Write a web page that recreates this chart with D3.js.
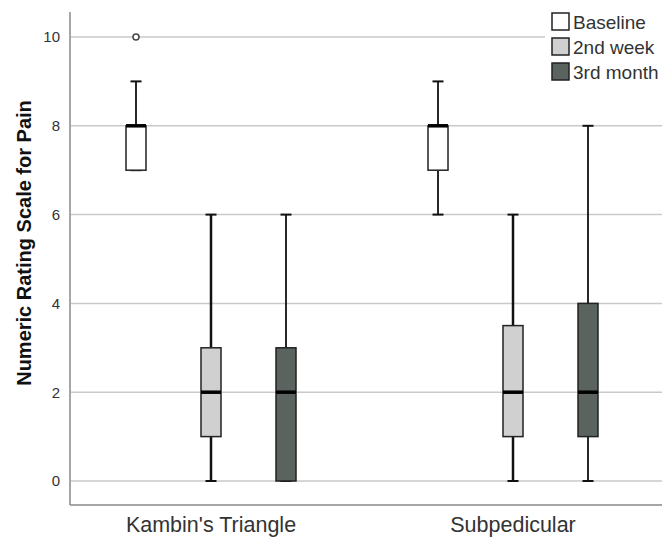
<!DOCTYPE html>
<html lang="en">
    <head>
        <meta charset="utf-8">
        <title>NRS boxplot</title>
        <script src="https://d3js.org/d3.v7.min.js"></script>
        <style>
            body { margin: 0; background: white; }
            text { font-family: "Liberation Sans", Arial, sans-serif; }
        </style>
    </head>
    <body>
        <script type="text/javascript">
        'use strict';

        //data
        var categories = ["Kambin's Triangle", "Subpedicular"];
        var series = ["Baseline", "2nd week", "3rd month"];
        var colors = ["#ffffff", "#d0d0d0", "#5a635d"];
        // [min, q1, median, q3, max] per category, per series
        var baseline = [[7, 7, 8, 8, 9], [6, 7, 8, 8, 9]];
        var week2 = [[0, 1, 2, 3, 6], [0, 1, 2, 3.5, 6]];
        var month3 = [[0, 0, 2, 3, 6], [0, 1, 2, 4, 8]];
        var outliers = [{cat: 0, ser: 0, value: 10}];
        var yTicks = [0, 2, 4, 6, 8, 10];

        var w = 662;
        var h = 537;
        var plotLeft = 70, plotTop = 12, plotBottom = 505;

        var stats = [baseline, week2, month3];

        var yScale = d3.scaleLinear()
            .domain([0, 10])
            .range([481, 37]);

        var xScale = d3.scaleBand()
            .domain(categories)
            .range([60, 664]);

        var xInner = d3.scalePoint()
            .domain(series)
            .range([-75, 75]);

        var svg = d3.select("body")
                    .append("svg")
                    .attr("width", w)
                    .attr("height", h);

        //gridlines
        svg.selectAll("line.grid")
            .data(yTicks)
            .enter()
            .append("line")
            .attr("class", "grid")
            .attr("x1", plotLeft + 1)
            .attr("x2", w)
            .attr("y1", function(d){ return yScale(d); })
            .attr("y2", function(d){ return yScale(d); })
            .attr("stroke", "#c9c9c9")
            .attr("stroke-width", 1.5);

        //axes
        var yAxis = d3.axisLeft(yScale)
            .tickValues(yTicks)
            .tickSize(0)
            .tickPadding(10);
        var gy = svg.append("g")
            .attr("transform", "translate(" + plotLeft + ",0)")
            .call(yAxis);
        gy.select(".domain").remove();
        gy.selectAll("text")
            .attr("font-size", "15px")
            .attr("fill", "#333");

        svg.append("line")
            .attr("x1", plotLeft).attr("x2", plotLeft)
            .attr("y1", plotTop).attr("y2", plotBottom)
            .attr("stroke", "#888").attr("stroke-width", 1.5);

        var xAxis = d3.axisBottom(xScale)
            .tickSize(0)
            .tickPadding(12);
        var gx = svg.append("g")
            .attr("transform", "translate(0," + plotBottom + ")")
            .call(xAxis);
        gx.select(".domain").remove();
        gx.selectAll("text")
            .attr("font-size", "21.5px")
            .attr("fill", "#333");

        svg.append("line")
            .attr("x1", plotLeft).attr("x2", w)
            .attr("y1", plotBottom).attr("y2", plotBottom)
            .attr("stroke", "#888").attr("stroke-width", 1.5);

        svg.append("text")
            .attr("transform", "translate(31,243) rotate(-90)")
            .attr("text-anchor", "middle")
            .attr("font-size", "20px")
            .attr("font-weight", "bold")
            .attr("fill", "#111")
            .text("Numeric Rating Scale for Pain");

        //boxes
        var boxes = [];
        series.forEach(function(s, si){
            categories.forEach(function(c, ci){
                var v = stats[si][ci];
                boxes.push({cat: c, ser: s, si: si, min: v[0], q1: v[1], med: v[2], q3: v[3], max: v[4]});
            });
        });

        var bw = 20, cap = 11;
        function cx(d){ return xScale(d.cat) + xScale.bandwidth() / 2 + xInner(d.ser); }

        var g = svg.selectAll("g.box")
            .data(boxes)
            .enter()
            .append("g")
            .attr("class", "box");

        g.append("line")
            .attr("x1", cx).attr("x2", cx)
            .attr("y1", function(d){ return yScale(d.max); })
            .attr("y2", function(d){ return yScale(d.q3); })
            .attr("stroke", "#111")
            .attr("stroke-width", function(d){ return d.si == 1 ? 2.5 : 1.8; });
        g.append("line")
            .attr("x1", cx).attr("x2", cx)
            .attr("y1", function(d){ return yScale(d.q1); })
            .attr("y2", function(d){ return yScale(d.min); })
            .attr("stroke", "#111")
            .attr("stroke-width", function(d){ return d.si == 1 ? 2.5 : 1.8; });
        g.append("line")
            .attr("x1", function(d){ return cx(d) - cap / 2; })
            .attr("x2", function(d){ return cx(d) + cap / 2; })
            .attr("y1", function(d){ return yScale(d.max); })
            .attr("y2", function(d){ return yScale(d.max); })
            .attr("stroke", "#111").attr("stroke-width", 2);
        g.append("line")
            .attr("x1", function(d){ return cx(d) - cap / 2; })
            .attr("x2", function(d){ return cx(d) + cap / 2; })
            .attr("y1", function(d){ return yScale(d.min); })
            .attr("y2", function(d){ return yScale(d.min); })
            .attr("stroke", "#111").attr("stroke-width", 2);
        g.append("rect")
            .attr("x", function(d){ return cx(d) - bw / 2; })
            .attr("y", function(d){ return yScale(d.q3); })
            .attr("width", bw)
            .attr("height", function(d){ return yScale(d.q1) - yScale(d.q3); })
            .attr("fill", function(d){ return colors[d.si]; })
            .attr("stroke", "#222")
            .attr("stroke-width", 1.5);
        g.append("line")
            .attr("x1", function(d){ return cx(d) - bw / 2; })
            .attr("x2", function(d){ return cx(d) + bw / 2; })
            .attr("y1", function(d){ return yScale(d.med); })
            .attr("y2", function(d){ return yScale(d.med); })
            .attr("stroke", "#000").attr("stroke-width", 3.5);

        //outliers
        svg.selectAll("circle.out")
            .data(outliers)
            .enter()
            .append("circle")
            .attr("class", "out")
            .attr("cx", function(d){ return xScale(categories[d.cat]) + xScale.bandwidth() / 2 + xInner(series[d.ser]); })
            .attr("cy", function(d){ return yScale(d.value); })
            .attr("r", 3)
            .attr("fill", "white")
            .attr("stroke", "#444")
            .attr("stroke-width", 1.5);

        //legend
        var legend = svg.append("g")
            .attr("transform", "translate(545,8)");
        legend.append("rect")
            .attr("width", 117).attr("height", 78)
            .attr("fill", "white");
        var li = legend.selectAll("g.item")
            .data(series)
            .enter()
            .append("g")
            .attr("class", "item")
            .attr("transform", function(d, i){ return "translate(0," + (i * 25) + ")"; });
        li.append("rect")
            .attr("x", 7).attr("y", 5)
            .attr("width", 17).attr("height", 17)
            .attr("fill", function(d, i){ return colors[i]; })
            .attr("stroke", "#222")
            .attr("stroke-width", 1.5);
        li.append("text")
            .attr("x", 28).attr("y", 21)
            .attr("font-size", "19px")
            .attr("fill", "#333")
            .text(function(d){ return d; });
        </script>
    </body>
</html>
